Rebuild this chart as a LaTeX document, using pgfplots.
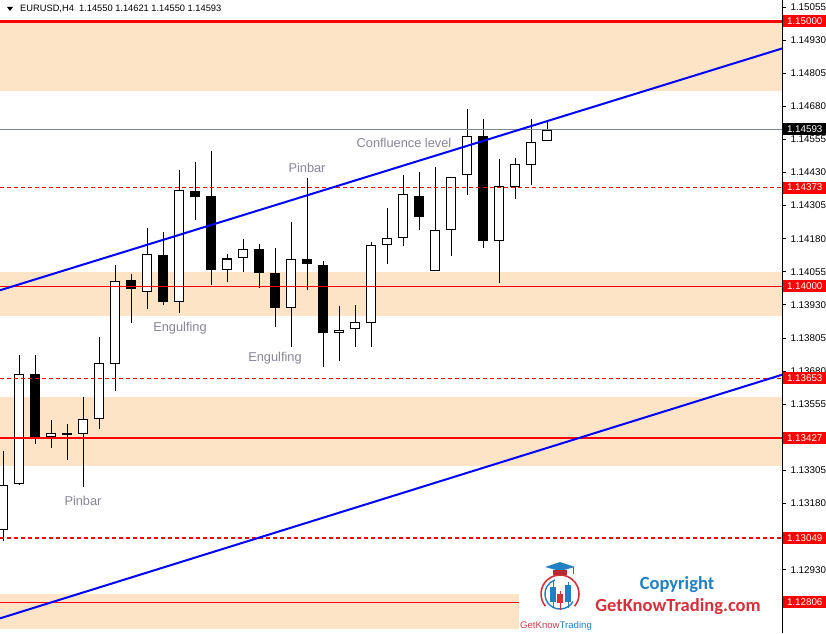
\documentclass[border=0pt]{standalone}
\usepackage{fontspec}
\setmainfont{Liberation Sans}
\newfontfamily\dejavu{DejaVu Sans}
\newfontfamily\carlito{Carlito}
\usepackage{pgfplots}
\usepackage{pgfplotstable}
\pgfplotsset{compat=1.18}
\definecolor{peach}{RGB}{253,228,198}
\definecolor{lvlgray}{RGB}{119,136,153}
\definecolor{anngray}{RGB}{135,135,150}
\definecolor{logoblue}{RGB}{33,128,196}
\definecolor{logored}{RGB}{214,48,58}

\pgfplotstableread{
i o h l c
0 1.13080 1.13378 1.13039 1.13252
1 1.13252 1.13741 1.13250 1.13668
2 1.13668 1.13741 1.13407 1.13432
3 1.13432 1.13495 1.13391 1.13445
4 1.13446 1.13480 1.13344 1.13439
5 1.13441 1.13583 1.13243 1.13498
6 1.13498 1.13807 1.13461 1.13709
7 1.13709 1.14080 1.13606 1.14021
8 1.14023 1.14046 1.13860 1.13989
9 1.13980 1.14223 1.13917 1.14121
10 1.14121 1.14205 1.13929 1.13942
11 1.13942 1.14439 1.13900 1.14364
12 1.14361 1.14469 1.14248 1.14338
13 1.14341 1.14511 1.14005 1.14064
14 1.14064 1.14122 1.14017 1.14106
15 1.14106 1.14181 1.14055 1.14141
16 1.14141 1.14159 1.13993 1.14051
17 1.14053 1.14147 1.13848 1.13919
18 1.13919 1.14243 1.13772 1.14103
19 1.14103 1.14408 1.13986 1.14083
20 1.14083 1.14096 1.13696 1.13825
21 1.13825 1.13926 1.13719 1.13838
22 1.13841 1.13929 1.13770 1.13864
23 1.13864 1.14167 1.13772 1.14159
24 1.14155 1.14297 1.14087 1.14181
25 1.14181 1.14420 1.14153 1.14347
26 1.14344 1.14433 1.14215 1.14263
27 1.14060 1.14452 1.14060 1.14215
28 1.14215 1.14415 1.14116 1.14415
29 1.14419 1.14670 1.14346 1.14568
30 1.14568 1.14634 1.14147 1.14172
31 1.14172 1.14481 1.14014 1.14378
32 1.14376 1.14483 1.14329 1.14461
33 1.14461 1.14631 1.14383 1.14548
34 1.14550 1.14621 1.14550 1.14593
}\candles

\newcommand{\ticfont}{\fontsize{9.8}{10}\selectfont}

\begin{document}
\begin{tikzpicture}
\path[use as bounding box] (0,0) rectangle (826pt,633pt);
\fill[white] (0,0) rectangle (826pt,633pt);
\begin{axis}[
  at={(0pt,0pt)}, anchor=south west,
  width=782pt, height=633pt, scale only axis,
  xmin=-0.1875, xmax=48.6875,
  ymin=1.126907, ymax=1.150812,
  axis x line=none,
  axis y line*=right,
  axis line style={-, black, line width=1pt},
  ytick={1.12930,1.13180,1.13305,1.13555,1.13680,1.13805,1.13930,1.14055,1.14180,1.14305,1.14430,1.14555,1.14680,1.14805,1.14930,1.15055},
  tick align=outside, major tick length=4pt,
  ytick style={black, line width=0.8pt},
  scaled y ticks=false,
  yticklabel style={font=\ticfont, /pgf/number format/fixed, /pgf/number format/fixed zerofill, /pgf/number format/precision=5, /pgf/number format/assume math mode=true, xshift=1pt},
]
% zones
\addplot[fill=peach, draw=none, forget plot] coordinates {(-0.1875,1.15000) (48.6875,1.15000) (48.6875,1.14738) (-0.1875,1.14738)};
\addplot[fill=peach, draw=none, forget plot] coordinates {(-0.1875,1.14054) (48.6875,1.14054) (48.6875,1.13888) (-0.1875,1.13888)};
\addplot[fill=peach, draw=none, forget plot] coordinates {(-0.1875,1.13582) (48.6875,1.13582) (48.6875,1.13321) (-0.1875,1.13321)};
\addplot[fill=peach, draw=none, forget plot] coordinates {(-0.1875,1.12838) (32.25,1.12838) (32.25,1.12705) (-0.1875,1.12705)};
% wicks
\addplot[draw=none, mark=none, forget plot, error bars/.cd, y dir=both, y explicit, error mark=none, error bar style={black, line width=1pt}]
  table[x=i, y expr={(\thisrow{h}+\thisrow{l})/2}, y error expr={(\thisrow{h}-\thisrow{l})/2}] {\candles};
% bodies (black)
\addplot[draw=none, mark=none, forget plot, error bars/.cd, y dir=both, y explicit, error mark=none, error bar style={black, line width=10pt}]
  table[x=i, y expr={(\thisrow{o}+\thisrow{c})/2}, y error expr={abs(\thisrow{c}-\thisrow{o})/2}] {\candles};
% bodies (white fill for bullish)
\addplot[draw=none, mark=none, forget plot, error bars/.cd, y dir=both, y explicit, error mark=none, error bar style={white, line width=8pt}]
  table[x=i, y expr={(\thisrow{o}+\thisrow{c})/2}, y error expr={(\thisrow{c}>\thisrow{o})*max(abs(\thisrow{c}-\thisrow{o})/2-0.0000378,0)}] {\candles};
% horizontal levels
\addplot[red, line width=2.5pt, forget plot] coordinates {(-0.1875,1.15000) (48.6875,1.15000)};
\addplot[red, line width=1pt, forget plot] coordinates {(-0.1875,1.14000) (48.6875,1.14000)};
\addplot[red, line width=2.8pt, forget plot] coordinates {(-0.1875,1.13427) (48.6875,1.13427)};
\addplot[red, line width=1pt, forget plot] coordinates {(-0.1875,1.12806) (32.25,1.12806)};
\addplot[red, line width=1.3pt, dash pattern=on 4pt off 3pt, forget plot] coordinates {(-0.1875,1.14373) (48.6875,1.14373)};
\addplot[red, line width=1.3pt, dash pattern=on 4pt off 3pt, forget plot] coordinates {(-0.1875,1.13653) (48.6875,1.13653)};
\addplot[red, line width=1.3pt, dash pattern=on 4pt off 3pt, forget plot] coordinates {(-0.1875,1.13049) (48.6875,1.13049)};
\addplot[lvlgray, line width=1pt, forget plot] coordinates {(-0.1875,1.14593) (48.6875,1.14593)};
% trend channel
\addplot[blue, line width=2pt, forget plot] coordinates {(-0.1875,1.13985) (48.6875,1.14898)};
\addplot[blue, line width=2pt, forget plot] coordinates {(-0.1875,1.12746) (48.6875,1.13666)};
% label anchors
\coordinate (r1) at (axis cs:48.6875,1.15000);
\coordinate (r2) at (axis cs:48.6875,1.14373);
\coordinate (r3) at (axis cs:48.6875,1.14000);
\coordinate (r4) at (axis cs:48.6875,1.13653);
\coordinate (r5) at (axis cs:48.6875,1.13427);
\coordinate (r6) at (axis cs:48.6875,1.13049);
\coordinate (r7) at (axis cs:48.6875,1.12806);
\coordinate (g1) at (axis cs:48.6875,1.14593);
\end{axis}
% price boxes
\foreach \n/\t in {r1/1.15000,r2/1.14373,r3/1.14000,r4/1.13653,r5/1.13427,r6/1.13049,r7/1.12806}
  \node[fill=red, text=white, font=\ticfont, anchor=west, minimum height=12pt, minimum width=43pt, inner sep=0pt] at ([xshift=1pt]\n) {\t};
\node[fill=black, text=white, font=\ticfont, anchor=west, minimum height=12pt, minimum width=43pt, inner sep=0pt] at ([xshift=1pt]g1) {1.14593};
% annotations in pixel coordinates
\begin{scope}[x=1pt, y=-1pt, yshift=633pt]
  \fill[black] (7,7) -- (13,7) -- (10,11) -- cycle;
  \node[anchor=west, font=\fontsize{9.3}{10}\selectfont, inner sep=0pt] at (20,9) {EURUSD,H4\ \ 1.14550 1.14621 1.14550 1.14593};
  \node[text=anngray, font=\fontsize{12.8}{14}\selectfont] at (180,328) {Engulfing};
  \node[text=anngray, font=\fontsize{12.8}{14}\selectfont] at (275,358) {Engulfing};
  \node[text=anngray, font=\fontsize{12.8}{14}\selectfont] at (307,168) {Pinbar};
  \node[text=anngray, font=\fontsize{12.8}{14}\selectfont] at (83,501) {Pinbar};
  \node[text=anngray, font=\fontsize{12.8}{14}\selectfont] at (404,143) {Confluence level};
  % logo
  \node[text=logoblue, font=\carlito\bfseries\fontsize{18.5}{20}\selectfont] at (677,585) {Copyright};
  \node[text=logored, font=\carlito\bfseries\fontsize{18.5}{20}\selectfont] at (678,607) {GetKnowTrading.com};
  \node[font=\fontsize{9.6}{10}\selectfont] at (556,626) {\textcolor{logored!80!gray}{GetKnow}\textcolor{logoblue}{Trading}};
  \draw[logored, line width=1.6pt] (560,594) ++(140:19) arc[start angle=140, end angle=400, radius=19];
  \draw[logoblue, line width=1.4pt] (560,594) ++(30:15) arc[start angle=30, end angle=250, radius=15];
  \fill[logoblue] (545,567) -- (560,562) -- (575,567) -- (560,571) -- cycle;
  \fill[logored!85!black] (553,570) -- (567,570) -- (567,575) -- (553,575) -- cycle;
  \draw[logored, line width=0.8pt] (573,567) -- (573,574);
  \draw[logoblue, line width=1pt] (553,581) -- (553,608);
  \fill[logoblue] (550,587) rectangle (556,602);
  \draw[logored, line width=1pt] (560,591) -- (560,610);
  \fill[logored] (557,594) rectangle (563,603);
  \draw[logoblue, line width=1pt] (568,582) -- (568,608);
  \fill[logoblue] (565,585) rectangle (571,602);
\end{scope}
\end{tikzpicture}
\end{document}
